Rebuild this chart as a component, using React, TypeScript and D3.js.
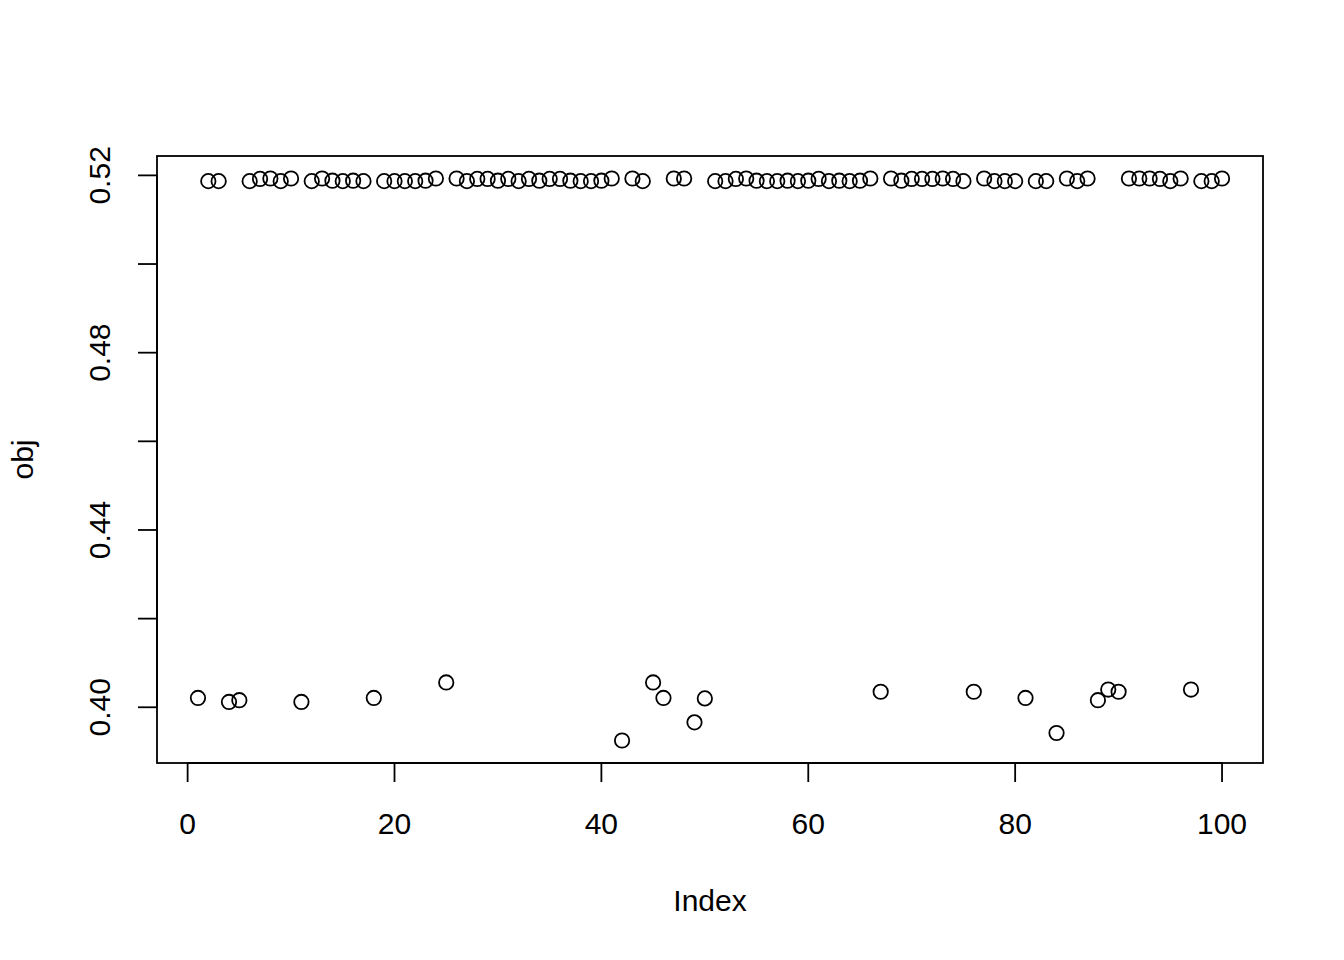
import React from 'react';
import * as d3 from 'd3';

// objective values, one per index 1..100
const obj: number[] = [
  0.4021, 0.5187, 0.5187, 0.4012, 0.4016, 0.5187, 0.5192, 0.5193, 0.5187, 0.5193,
  0.4012, 0.5187, 0.5193, 0.5188, 0.5187, 0.5188, 0.5187, 0.4021, 0.5187, 0.5187,
  0.5187, 0.5187, 0.5188, 0.5193, 0.4056, 0.5193, 0.5187, 0.5192, 0.5192, 0.5188,
  0.5192, 0.5187, 0.5192, 0.5188, 0.5192, 0.5192, 0.5188, 0.5187, 0.5187, 0.5188,
  0.5193, 0.3925, 0.5193, 0.5187, 0.4056, 0.4021, 0.5193, 0.5193, 0.3966, 0.4020,
  0.5187, 0.5187, 0.5192, 0.5193, 0.5188, 0.5187, 0.5187, 0.5188, 0.5187, 0.5188,
  0.5192, 0.5187, 0.5188, 0.5187, 0.5188, 0.5193, 0.4035, 0.5193, 0.5188, 0.5192,
  0.5192, 0.5192, 0.5193, 0.5192, 0.5187, 0.4035, 0.5193, 0.5187, 0.5187, 0.5187,
  0.4021, 0.5187, 0.5187, 0.3942, 0.5193, 0.5187, 0.5193, 0.4016, 0.4040, 0.4035,
  0.5193, 0.5193, 0.5193, 0.5192, 0.5187, 0.5193, 0.4040, 0.5187, 0.5187, 0.5193,
];
const index: number[] = obj.map((_, i) => i + 1);

const xTicks: number[] = [0, 20, 40, 60, 80, 100];
const yTicks: number[] = [0.40, 0.42, 0.44, 0.46, 0.48, 0.50, 0.52];
const yLabelled: number[] = [0.40, 0.44, 0.48, 0.52];

const W = 1344;
const H = 960;
const box = { left: 157, right: 1263, top: 156, bottom: 763 };
const font = '"Liberation Sans", Arial, Helvetica, sans-serif';
const fs = 30;
const tick = 19;

// R style 4% range expansion
const expand = (lo: number, hi: number): [number, number] => {
  const pad = (hi - lo) * 0.04;
  return [lo - pad, hi + pad];
};

const App: React.FC = () => {
  const x = d3.scaleLinear()
    .domain(expand(d3.min(index)!, d3.max(index)!))
    .range([box.left, box.right]);
  const y = d3.scaleLinear()
    .domain(expand(d3.min(obj)!, d3.max(obj)!))
    .range([box.bottom, box.top]);

  return (
    <svg width={W} height={H} style={{ position: 'absolute', left: 0, top: 0, background: '#fff' }}
      fontFamily={font} fontSize={fs}>
      <rect x={box.left} y={box.top} width={box.right - box.left} height={box.bottom - box.top}
        fill="none" stroke="#000" strokeWidth={1.8} />

      {/* x axis */}
      <line x1={x(xTicks[0])} x2={x(xTicks[xTicks.length - 1])} y1={box.bottom} y2={box.bottom}
        stroke="#000" strokeWidth={1.8} />
      {xTicks.map(t => (
        <g key={t}>
          <line x1={x(t)} x2={x(t)} y1={box.bottom} y2={box.bottom + tick} stroke="#000" strokeWidth={1.8} />
          <text x={x(t)} y={834} textAnchor="middle">{t}</text>
        </g>
      ))}
      <text x={(box.left + box.right) / 2} y={910.5} textAnchor="middle">Index</text>

      {/* y axis */}
      <line x1={box.left} x2={box.left} y1={y(yTicks[0])} y2={y(yTicks[yTicks.length - 1])}
        stroke="#000" strokeWidth={1.8} />
      {yTicks.map(t => (
        <line key={t} x1={box.left - tick} x2={box.left} y1={y(t)} y2={y(t)} stroke="#000" strokeWidth={1.8} />
      ))}
      {yLabelled.map(t => (
        <text key={t} transform={`translate(110,${y(t)}) rotate(-90)`} textAnchor="middle">{t.toFixed(2)}</text>
      ))}
      <text transform={`translate(33,${(box.top + box.bottom) / 2}) rotate(-90)`} textAnchor="middle">obj</text>

      {/* points */}
      {obj.map((v, i) => (
        <circle key={i} cx={x(index[i])} cy={y(v)} r={7.2} fill="none" stroke="#000" strokeWidth={1.8} />
      ))}
    </svg>
  );
};

export default App;
